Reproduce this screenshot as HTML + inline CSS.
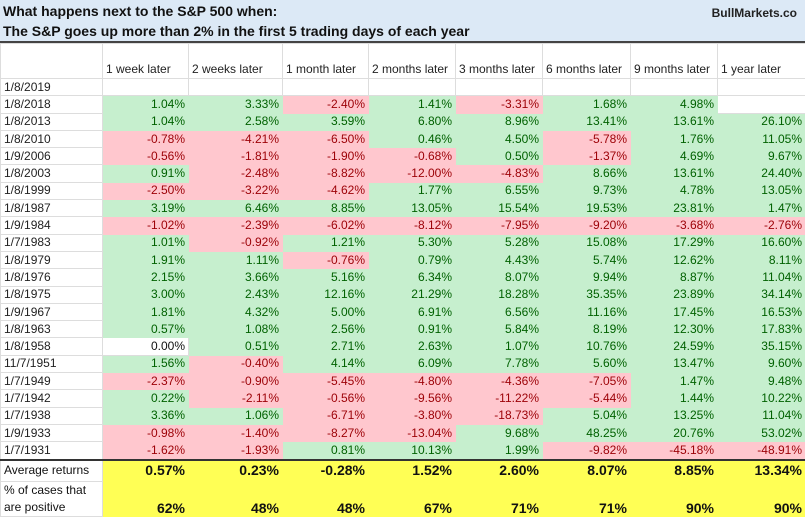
<!DOCTYPE html>
<html><head><meta charset="utf-8"><style>
body{margin:0;width:805px;height:515px;overflow:hidden;background:#fff;font-family:"Liberation Sans",Arial,sans-serif;}
.title{position:absolute;left:0;top:0;width:805px;height:41px;background:#dce9f6;border-bottom:2px solid #444;}
.t1{position:absolute;left:3px;top:3px;font-size:14px;font-weight:bold;color:#111;}
.t2{position:absolute;left:3px;top:23px;font-size:14px;font-weight:bold;color:#111;}
.bm{position:absolute;right:8px;top:6px;font-size:12px;font-weight:bold;color:#222;}
table{position:absolute;left:0;top:43px;border-collapse:collapse;table-layout:fixed;width:805px;}
td{border:1px solid #ddd;padding:0 3px;font-size:12px;white-space:nowrap;overflow:hidden;height:16.3px;line-height:15px;text-align:right;color:#222;}
td:first-child{text-align:left;color:#222;}
tr.h td{height:33px;vertical-align:bottom;text-align:left;padding-bottom:1px;}
.g{background:#c6efce;color:#006100;border-color:#c6efce;}
.r{background:#ffc7ce;color:#9c0006;border-color:#ffc7ce;}
tr.last td{border-bottom:2px solid #333;}
tr.y td{background:#ffff55;font-weight:bold;font-size:14px;color:#111;border-color:#ffff55;}
tr.y td:first-child{background:#fff;font-weight:normal;font-size:12px;border-color:#ddd;}
tr.avg td{height:20px;}
tr.pc td{height:34px;vertical-align:bottom;}
</style></head><body>
<div class="title"><div class="t1">What happens next to the S&amp;P 500 when:</div><div class="t2">The S&amp;P goes up more than 2% in the first 5 trading days of each year</div><div class="bm">BullMarkets.co</div></div>
<table>
<colgroup><col style="width:102px"><col style="width:86px"><col style="width:94px"><col style="width:86px"><col style="width:87px"><col style="width:87px"><col style="width:88px"><col style="width:87px"><col style="width:88px"></colgroup>
<tr class="h"><td></td><td>1 week later</td><td>2 weeks later</td><td>1 month later</td><td>2 months later</td><td>3 months later</td><td>6 months later</td><td>9 months later</td><td>1 year later</td></tr>
<tr><td>1/8/2019</td><td></td><td></td><td></td><td></td><td></td><td></td><td></td><td></td></tr>
<tr><td>1/8/2018</td><td class="g">1.04%</td><td class="g">3.33%</td><td class="r">-2.40%</td><td class="g">1.41%</td><td class="r">-3.31%</td><td class="g">1.68%</td><td class="g">4.98%</td><td></td></tr>
<tr><td>1/8/2013</td><td class="g">1.04%</td><td class="g">2.58%</td><td class="g">3.59%</td><td class="g">6.80%</td><td class="g">8.96%</td><td class="g">13.41%</td><td class="g">13.61%</td><td class="g">26.10%</td></tr>
<tr><td>1/8/2010</td><td class="r">-0.78%</td><td class="r">-4.21%</td><td class="r">-6.50%</td><td class="g">0.46%</td><td class="g">4.50%</td><td class="r">-5.78%</td><td class="g">1.76%</td><td class="g">11.05%</td></tr>
<tr><td>1/9/2006</td><td class="r">-0.56%</td><td class="r">-1.81%</td><td class="r">-1.90%</td><td class="r">-0.68%</td><td class="g">0.50%</td><td class="r">-1.37%</td><td class="g">4.69%</td><td class="g">9.67%</td></tr>
<tr><td>1/8/2003</td><td class="g">0.91%</td><td class="r">-2.48%</td><td class="r">-8.82%</td><td class="r">-12.00%</td><td class="r">-4.83%</td><td class="g">8.66%</td><td class="g">13.61%</td><td class="g">24.40%</td></tr>
<tr><td>1/8/1999</td><td class="r">-2.50%</td><td class="r">-3.22%</td><td class="r">-4.62%</td><td class="g">1.77%</td><td class="g">6.55%</td><td class="g">9.73%</td><td class="g">4.78%</td><td class="g">13.05%</td></tr>
<tr><td>1/8/1987</td><td class="g">3.19%</td><td class="g">6.46%</td><td class="g">8.85%</td><td class="g">13.05%</td><td class="g">15.54%</td><td class="g">19.53%</td><td class="g">23.81%</td><td class="g">1.47%</td></tr>
<tr><td>1/9/1984</td><td class="r">-1.02%</td><td class="r">-2.39%</td><td class="r">-6.02%</td><td class="r">-8.12%</td><td class="r">-7.95%</td><td class="r">-9.20%</td><td class="r">-3.68%</td><td class="r">-2.76%</td></tr>
<tr><td>1/7/1983</td><td class="g">1.01%</td><td class="r">-0.92%</td><td class="g">1.21%</td><td class="g">5.30%</td><td class="g">5.28%</td><td class="g">15.08%</td><td class="g">17.29%</td><td class="g">16.60%</td></tr>
<tr><td>1/8/1979</td><td class="g">1.91%</td><td class="g">1.11%</td><td class="r">-0.76%</td><td class="g">0.79%</td><td class="g">4.43%</td><td class="g">5.74%</td><td class="g">12.62%</td><td class="g">8.11%</td></tr>
<tr><td>1/8/1976</td><td class="g">2.15%</td><td class="g">3.66%</td><td class="g">5.16%</td><td class="g">6.34%</td><td class="g">8.07%</td><td class="g">9.94%</td><td class="g">8.87%</td><td class="g">11.04%</td></tr>
<tr><td>1/8/1975</td><td class="g">3.00%</td><td class="g">2.43%</td><td class="g">12.16%</td><td class="g">21.29%</td><td class="g">18.28%</td><td class="g">35.35%</td><td class="g">23.89%</td><td class="g">34.14%</td></tr>
<tr><td>1/9/1967</td><td class="g">1.81%</td><td class="g">4.32%</td><td class="g">5.00%</td><td class="g">6.91%</td><td class="g">6.56%</td><td class="g">11.16%</td><td class="g">17.45%</td><td class="g">16.53%</td></tr>
<tr><td>1/8/1963</td><td class="g">0.57%</td><td class="g">1.08%</td><td class="g">2.56%</td><td class="g">0.91%</td><td class="g">5.84%</td><td class="g">8.19%</td><td class="g">12.30%</td><td class="g">17.83%</td></tr>
<tr><td>1/8/1958</td><td style="color:#111">0.00%</td><td class="g">0.51%</td><td class="g">2.71%</td><td class="g">2.63%</td><td class="g">1.07%</td><td class="g">10.76%</td><td class="g">24.59%</td><td class="g">35.15%</td></tr>
<tr><td>11/7/1951</td><td class="g">1.56%</td><td class="r">-0.40%</td><td class="g">4.14%</td><td class="g">6.09%</td><td class="g">7.78%</td><td class="g">5.60%</td><td class="g">13.47%</td><td class="g">9.60%</td></tr>
<tr><td>1/7/1949</td><td class="r">-2.37%</td><td class="r">-0.90%</td><td class="r">-5.45%</td><td class="r">-4.80%</td><td class="r">-4.36%</td><td class="r">-7.05%</td><td class="g">1.47%</td><td class="g">9.48%</td></tr>
<tr><td>1/7/1942</td><td class="g">0.22%</td><td class="r">-2.11%</td><td class="r">-0.56%</td><td class="r">-9.56%</td><td class="r">-11.22%</td><td class="r">-5.44%</td><td class="g">1.44%</td><td class="g">10.22%</td></tr>
<tr><td>1/7/1938</td><td class="g">3.36%</td><td class="g">1.06%</td><td class="r">-6.71%</td><td class="r">-3.80%</td><td class="r">-18.73%</td><td class="g">5.04%</td><td class="g">13.25%</td><td class="g">11.04%</td></tr>
<tr><td>1/9/1933</td><td class="r">-0.98%</td><td class="r">-1.40%</td><td class="r">-8.27%</td><td class="r">-13.04%</td><td class="g">9.68%</td><td class="g">48.25%</td><td class="g">20.76%</td><td class="g">53.02%</td></tr>
<tr class="last"><td>1/7/1931</td><td class="r">-1.62%</td><td class="r">-1.93%</td><td class="g">0.81%</td><td class="g">10.13%</td><td class="g">1.99%</td><td class="r">-9.82%</td><td class="r">-45.18%</td><td class="r">-48.91%</td></tr>
<tr class="y avg"><td>Average returns</td><td>0.57%</td><td>0.23%</td><td>-0.28%</td><td>1.52%</td><td>2.60%</td><td>8.07%</td><td>8.85%</td><td>13.34%</td></tr>
<tr class="y pc"><td style="white-space:normal;line-height:17px">% of cases that are positive</td><td>62%</td><td>48%</td><td>48%</td><td>67%</td><td>71%</td><td>71%</td><td>90%</td><td>90%</td></tr>
</table>
</body></html>
